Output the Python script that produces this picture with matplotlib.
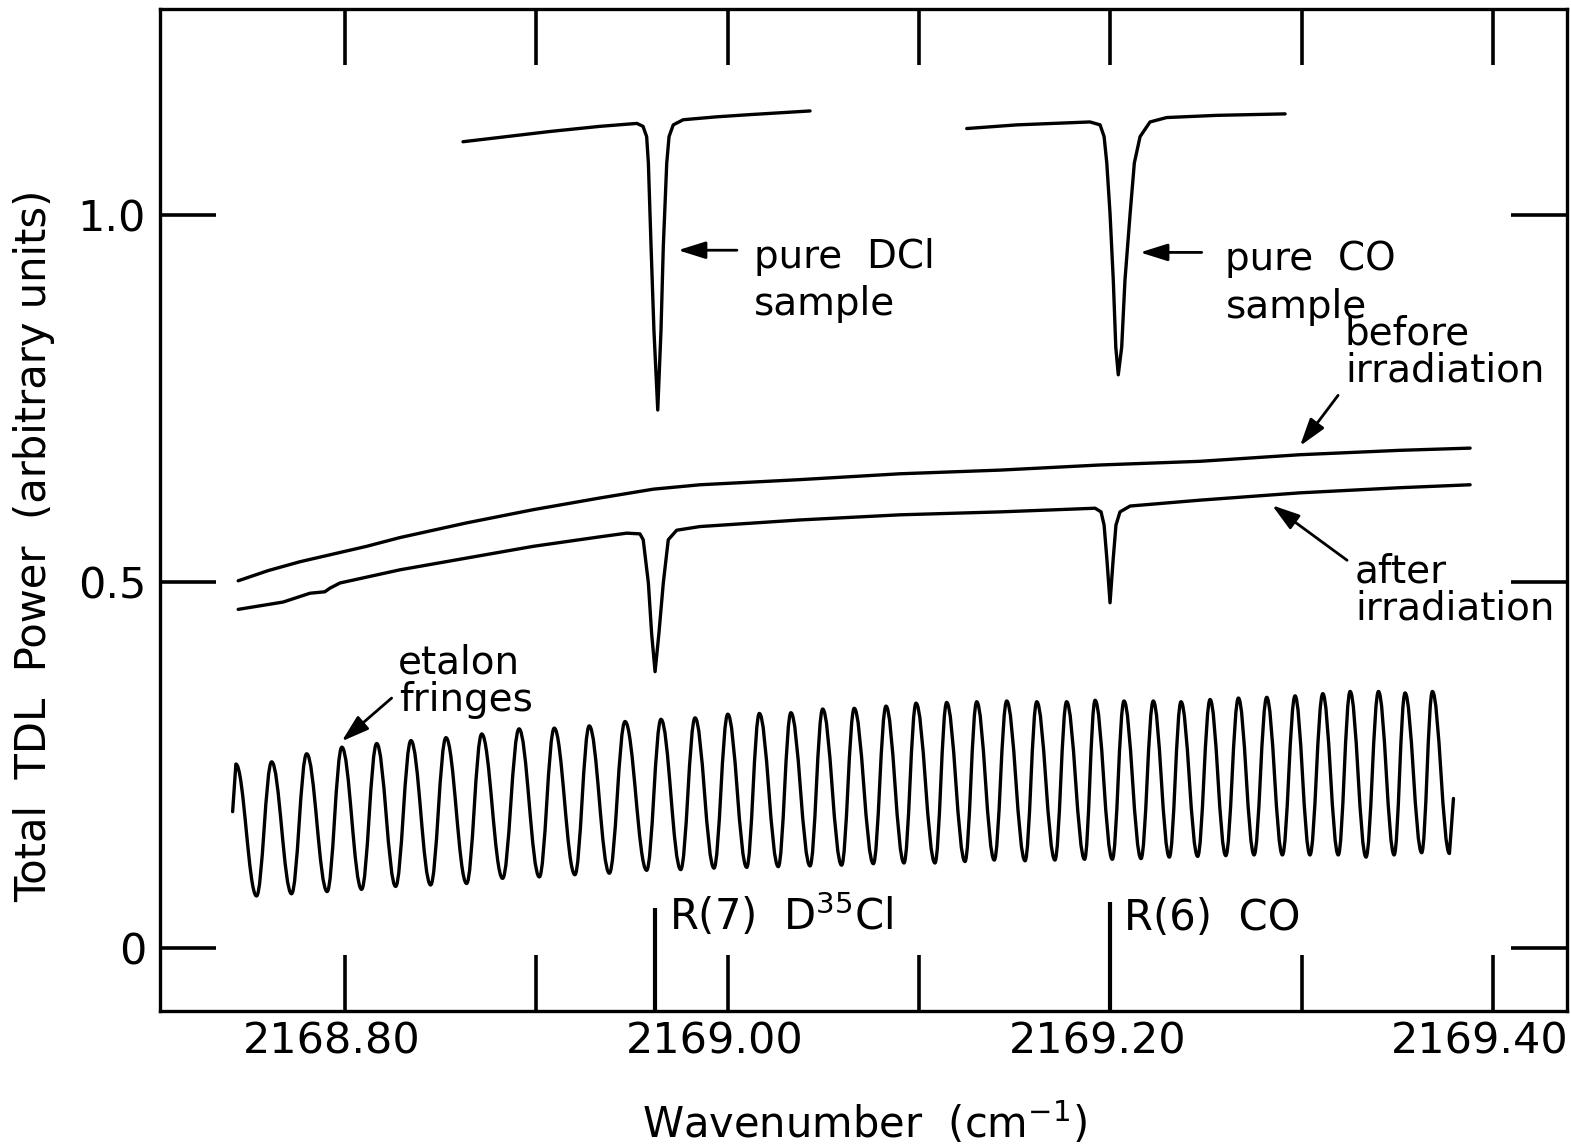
import matplotlib.pyplot as plt
from matplotlib.path import Path
from matplotlib.patches import PathPatch
from matplotlib.transforms import ScaledTranslation

plt.rcParams['font.family'] = ['DejaVu Sans']
plt.rcParams['mathtext.fontset'] = 'dejavusans'
plt.rcParams['mathtext.default'] = 'regular'

# pure DCl reference cell, R(7) line
dcl_wn = [2168.8617, 2168.9072, 2168.9333, 2168.9526, 2168.9558, 2168.9577, 2168.9586,
          2168.9600, 2168.9615, 2168.9635, 2168.9652, 2168.9664, 2168.9682, 2168.9694,
          2168.9716, 2168.9768, 2168.9943, 2169.0117, 2169.0431]
dcl_power = [1.100, 1.114, 1.121, 1.125, 1.121, 1.107, 1.071,
             0.957, 0.843, 0.734, 0.843, 0.957, 1.071, 1.107,
             1.123, 1.130, 1.134, 1.137, 1.142]

# pure CO reference cell, R(6) line
co_wn = [2169.1250, 2169.1511, 2169.1894, 2169.1947, 2169.1968, 2169.1982, 2169.1999,
         2169.2016, 2169.2029, 2169.2042, 2169.2060, 2169.2077, 2169.2104, 2169.2126,
         2169.2156, 2169.2208, 2169.2295, 2169.2557, 2169.2914]
co_power = [1.118, 1.123, 1.127, 1.123, 1.107, 1.071, 1.002,
            0.911, 0.820, 0.782, 0.820, 0.911, 1.002, 1.071,
            1.107, 1.127, 1.133, 1.136, 1.138]

# sample before irradiation
before_wn = [2168.7442, 2168.7600, 2168.7765, 2168.8113, 2168.8288, 2168.8636, 2168.8984,
             2168.9333, 2168.9612, 2168.9856, 2169.0378, 2169.0901, 2169.1424, 2169.1947,
             2169.2469, 2169.2992, 2169.3515, 2169.3881]
before_power = [0.501, 0.515, 0.527, 0.548, 0.560, 0.580, 0.598,
                0.614, 0.626, 0.632, 0.639, 0.647, 0.652, 0.659,
                0.664, 0.673, 0.679, 0.682]

# sample after irradiation
after_wn = [2168.7442, 2168.7677, 2168.7817, 2168.7895, 2168.7922, 2168.7974, 2168.8288,
            2168.8636, 2168.8984, 2168.9333, 2168.9473, 2168.9542, 2168.9559, 2168.9586,
            2168.9603, 2168.9621, 2168.9641, 2168.9664, 2168.9690, 2168.9734, 2168.9856,
            2169.0378, 2169.0901, 2169.1424, 2169.1921, 2169.1952, 2169.1968, 2169.1983,
            2169.1999, 2169.2015, 2169.2030, 2169.2051, 2169.2104, 2169.2469, 2169.2992,
            2169.3515, 2169.3881]
after_power = [0.462, 0.472, 0.484, 0.486, 0.491, 0.498, 0.516,
               0.532, 0.548, 0.561, 0.566, 0.565, 0.557, 0.498,
               0.429, 0.377, 0.429, 0.498, 0.557, 0.570, 0.575,
               0.584, 0.591, 0.595, 0.600, 0.595, 0.577, 0.529,
               0.471, 0.529, 0.577, 0.595, 0.603, 0.611, 0.621,
               0.628, 0.632]

# etalon fringes: end points plus alternating maxima / minima
fringe_wn = [2168.7413, 2168.7430, 2168.7538, 2168.7617, 2168.7721, 2168.7800, 2168.7907,
             2168.7984, 2168.8087, 2168.8166, 2168.8265, 2168.8345, 2168.8448, 2168.8528,
             2168.8636, 2168.8715, 2168.8824, 2168.8910, 2168.9016, 2168.9094, 2168.9202,
             2168.9277, 2168.9382, 2168.9464, 2168.9577, 2168.9652, 2168.9755, 2168.9830,
             2168.9929, 2169.0001, 2169.0100, 2169.0166, 2169.0265, 2169.0331, 2169.0431,
             2169.0497, 2169.0596, 2169.0662, 2169.0762, 2169.0828, 2169.0922, 2169.0985,
             2169.1084, 2169.1145, 2169.1241, 2169.1302, 2169.1394, 2169.1459, 2169.1555,
             2169.1616, 2169.1711, 2169.1772, 2169.1866, 2169.1921, 2169.2011, 2169.2072,
             2169.2161, 2169.2225, 2169.2309, 2169.2370, 2169.2457, 2169.2522, 2169.2604,
             2169.2670, 2169.2752, 2169.2818, 2169.2900, 2169.2966, 2169.3044, 2169.3111,
             2169.3192, 2169.3254, 2169.3337, 2169.3402, 2169.3484, 2169.3541, 2169.3628,
             2169.3684, 2169.3773, 2169.3794]
fringe_power = [0.186, 0.251, 0.071, 0.254, 0.074, 0.265, 0.077,
                0.274, 0.080, 0.279, 0.084, 0.283, 0.086, 0.287,
                0.088, 0.292, 0.095, 0.299, 0.097, 0.300, 0.100,
                0.303, 0.102, 0.309, 0.106, 0.312, 0.107, 0.314,
                0.109, 0.319, 0.110, 0.320, 0.111, 0.321, 0.112,
                0.326, 0.113, 0.327, 0.115, 0.330, 0.116, 0.334,
                0.116, 0.335, 0.118, 0.336, 0.120, 0.337, 0.119,
                0.336, 0.120, 0.336, 0.121, 0.338, 0.121, 0.337,
                0.122, 0.337, 0.124, 0.336, 0.125, 0.339, 0.126,
                0.341, 0.127, 0.342, 0.127, 0.344, 0.127, 0.347,
                0.127, 0.350, 0.124, 0.350, 0.127, 0.348, 0.130,
                0.350, 0.129, 0.204]

# line assignments
line_names = ["R(7)  D$^{35}$Cl", "R(6)  CO"]
line_wn = [2168.962, 2169.200]

xtick_values = [2168.8, 2168.9, 2169.0, 2169.1, 2169.2, 2169.3, 2169.4]
xtick_labels = ["2168.80", "", "2169.00", "", "2169.20", "", "2169.40"]
ytick_values = [0, 0.5, 1.0]
ytick_labels = ["0", "0.5", "1.0"]


def fringe_path(xs, ys, k=0.38):
    # smooth pen stroke through the extrema (flat tangent at each max/min);
    # the two end pieces are straight
    verts = [(xs[0], ys[0]), (xs[1], ys[1])]
    codes = [Path.MOVETO, Path.LINETO]
    for i in range(2, len(xs) - 1):
        dx = xs[i] - xs[i - 1]
        verts += [(xs[i - 1] + k * dx, ys[i - 1]), (xs[i] - k * dx, ys[i]), (xs[i], ys[i])]
        codes += [Path.CURVE4] * 3
    verts.append((xs[-1], ys[-1]))
    codes.append(Path.LINETO)
    return Path(verts, codes)


fig = plt.figure(figsize=(15.71, 11.48), dpi=100)
ax = fig.add_axes([0.1018, 0.1193, 0.8956, 0.8728])

trace = dict(color='black', lw=2.4, solid_joinstyle='round', solid_capstyle='round')
ax.plot(dcl_wn, dcl_power, **trace)
ax.plot(co_wn, co_power, **trace)
ax.plot(before_wn, before_power, **trace)
ax.plot(after_wn, after_power, **trace)
ax.add_patch(PathPatch(fringe_path(fringe_wn, fringe_power), fill=False,
                       edgecolor='black', lw=2.4, joinstyle='round', capstyle='round'))

ax.set_xlim(2168.7033, 2169.4387)
ax.set_ylim(-0.086, 1.281)

# line position markers rising from the bottom axis
marker_tops = [0.055, 0.063]
for wn, top, name in zip(line_wn, marker_tops, line_names):
    ax.plot([wn, wn], [-0.086, top], color='black', lw=3, solid_capstyle='butt')
    ax.text(wn + 0.0073, 0.024, name, fontsize=30, va='baseline', ha='left')

# labels for the traces
txt = dict(fontsize=28, va='baseline', ha='left')
ax.text(2169.0138, 0.928, "pure  DCl", **txt)
ax.text(2169.0138, 0.864, "sample", **txt)
ax.text(2169.2600, 0.925, "pure  CO", **txt)
ax.text(2169.2605, 0.860, "sample", **txt)
ax.text(2169.3227, 0.823, "before", **txt)
ax.text(2169.3230, 0.773, "irradiation", **txt)
ax.text(2169.3280, 0.499, "after", **txt)
ax.text(2169.3280, 0.448, "irradiation", **txt)
ax.text(2168.8277, 0.375, "etalon", **txt)
ax.text(2168.8285, 0.324, "fringes", **txt)

arrow = dict(arrowstyle='-|>,head_length=0.7,head_width=0.22', color='black',
             lw=2, shrinkA=0, shrinkB=0, mutation_scale=24)
ax.annotate('', xy=(2168.9741, 0.952), xytext=(2169.0049, 0.952), arrowprops=arrow)
ax.annotate('', xy=(2169.2156, 0.949), xytext=(2169.2478, 0.949), arrowprops=arrow)
ax.annotate('', xy=(2169.2992, 0.685), xytext=(2169.3191, 0.754), arrowprops=arrow)
ax.annotate('', xy=(2169.2846, 0.604), xytext=(2169.3238, 0.529), arrowprops=arrow)
ax.annotate('', xy=(2168.7983, 0.282), xytext=(2168.8244, 0.341), arrowprops=arrow)

# axes frame and inward ticks on all four sides
for side in ax.spines.values():
    side.set_linewidth(2.4)
ax.set_xticks(xtick_values)
ax.set_xticklabels(xtick_labels)
ax.set_yticks(ytick_values)
ax.set_yticklabels(ytick_labels)
ax.tick_params(direction='in', length=40, width=2.6, top=True, right=True,
               labelsize=31)
ax.tick_params(axis='x', pad=7)
ax.tick_params(axis='y', pad=10)

shift = ScaledTranslation(-0.13, 0, fig.dpi_scale_trans)
for lab in ax.get_xticklabels():
    lab.set_transform(lab.get_transform() + shift)

ax.set_xlabel("Wavenumber  (cm$^{-1}$)", fontsize=30)
ax.set_ylabel("Total  TDL  Power  (arbitrary units)", fontsize=30)
ax.xaxis.set_label_coords(0.501, -0.089)
ax.yaxis.set_label_coords(-0.0746, 0.464)

fig.savefig('out.png', dpi=100)
